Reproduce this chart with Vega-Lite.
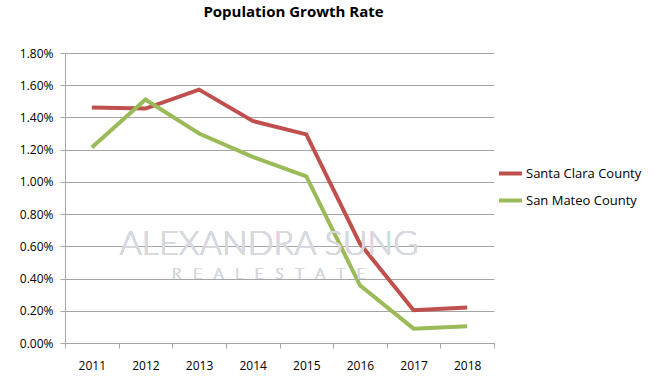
{
  "$schema": "https://vega.github.io/schema/vega-lite/v6.json",
  "width": 429,
  "height": 290,
  "autosize": "none",
  "padding": {"left": 65, "top": 53, "right": 160, "bottom": 37},
  "background": "white",
  "title": {
    "text": "Population Growth Rate",
    "font": "Open Sans",
    "fontSize": 15,
    "fontWeight": "bold",
    "color": "#000000",
    "anchor": "middle",
    "dx": 14,
    "offset": 27
  },
  "data": {
    "values": [
      {"year": "2011", "county": "Santa Clara County", "rate": 0.01461},
      {"year": "2012", "county": "Santa Clara County", "rate": 0.01455},
      {"year": "2013", "county": "Santa Clara County", "rate": 0.01573},
      {"year": "2014", "county": "Santa Clara County", "rate": 0.01378},
      {"year": "2015", "county": "Santa Clara County", "rate": 0.01295},
      {"year": "2016", "county": "Santa Clara County", "rate": 0.00617},
      {"year": "2017", "county": "Santa Clara County", "rate": 0.00203},
      {"year": "2018", "county": "Santa Clara County", "rate": 0.0022},
      {"year": "2011", "county": "San Mateo County", "rate": 0.01213},
      {"year": "2012", "county": "San Mateo County", "rate": 0.01511},
      {"year": "2013", "county": "San Mateo County", "rate": 0.013},
      {"year": "2014", "county": "San Mateo County", "rate": 0.01155},
      {"year": "2015", "county": "San Mateo County", "rate": 0.01035},
      {"year": "2016", "county": "San Mateo County", "rate": 0.00358},
      {"year": "2017", "county": "San Mateo County", "rate": 0.00089},
      {"year": "2018", "county": "San Mateo County", "rate": 0.00104}
    ]
  },
  "config": {
    "view": {"stroke": null},
    "axis": {
      "labelFont": "Open Sans",
      "labelFontSize": 12,
      "labelColor": "#000000",
      "domainColor": "#a6a6a6",
      "tickColor": "#a6a6a6",
      "gridColor": "#a6a6a6",
      "title": null
    }
  },
  "layer": [
    {
      "mark": {"type": "line", "strokeWidth": 4, "strokeJoin": "miter"},
      "encoding": {
        "x": {
          "field": "year",
          "type": "ordinal",
          "bandPosition": 0.5,
          "scale": {"type": "band", "paddingInner": 0, "paddingOuter": 0},
          "axis": {"labelAngle": 0, "tickBand": "extent", "bandPosition": 0.5, "labelAlign": "center", "tickSize": 5, "labelPadding": 12, "grid": false}
        },
        "y": {
          "field": "rate",
          "type": "quantitative",
          "scale": {"domain": [0, 0.018], "nice": false},
          "axis": {"format": ".2%", "values": [0, 0.002, 0.004, 0.006, 0.008, 0.01, 0.012, 0.014, 0.016, 0.018], "tickCount": 20, "labelOverlap": false, "tickSize": 5, "labelPadding": 7, "grid": true}
        },
        "color": {
          "field": "county",
          "type": "nominal",
          "sort": ["Santa Clara County", "San Mateo County"],
          "scale": {"domain": ["Santa Clara County", "San Mateo County"], "range": ["#C0504D", "#9BBB59"]},
          "legend": {
            "title": null,
            "orient": "none",
            "legendX": 432,
            "legendY": 107,
            "symbolType": "stroke",
            "symbolSize": 529,
            "symbolStrokeWidth": 4,
            "rowPadding": 5,
            "labelFont": "Open Sans",
            "labelFontSize": 13,
            "labelColor": "#000000",
            "labelOffset": 2
          }
        }
      }
    },
    {
      "mark": {"type": "text", "font": "Lato", "fontSize": 34, "fontWeight": 300, "color": "#d6dae0", "opacity": 0.85, "align": "center", "baseline": "middle"},
      "encoding": {
        "x": {"datum": "2014", "type": "ordinal", "bandPosition": 0.8},
        "y": {"datum": 0.0061, "type": "quantitative"},
        "text": {"value": "ALEXANDRA SUNG"}
      }
    },
    {
      "mark": {"type": "text", "font": "Lato", "fontSize": 15, "fontWeight": 300, "color": "#d6dae0", "opacity": 0.85, "align": "center", "baseline": "middle"},
      "encoding": {
        "x": {"datum": "2014", "type": "ordinal", "bandPosition": 0.8},
        "y": {"datum": 0.0043, "type": "quantitative"},
        "text": {"value": "R\u00a0\u00a0\u00a0E\u00a0\u00a0\u00a0A\u00a0\u00a0\u00a0L\u00a0\u00a0\u00a0E\u00a0\u00a0\u00a0S\u00a0\u00a0\u00a0T\u00a0\u00a0\u00a0A\u00a0\u00a0\u00a0T\u00a0\u00a0\u00a0E"}
      }
    }
  ]
}
